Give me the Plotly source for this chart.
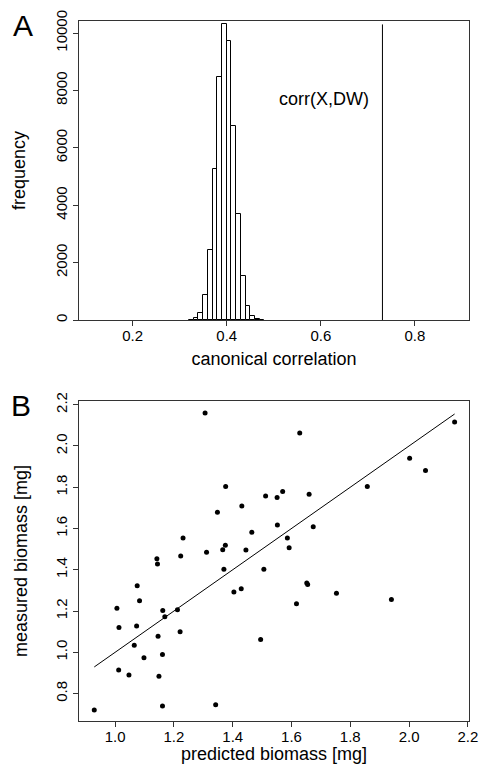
import plotly.graph_objects as go

# panel A: permutation histogram of canonical correlation (bin width 0.01)
bin_left = [0.32, 0.33, 0.34, 0.35, 0.36, 0.37, 0.38, 0.39,
            0.40, 0.41, 0.42, 0.43, 0.44, 0.45, 0.46, 0.47]
counts = [10, 58, 232, 870, 2436, 5278, 8480, 10301,
          9733, 6752, 3689, 1531, 499, 139, 35, 5]
observed_corr = 0.731
freq_ticks = [0, 2000, 4000, 6000, 8000, 10000]

# panel B: predicted vs measured biomass
predicted = [1.306, 1.376, 1.512, 1.551, 1.431, 1.348, 1.552, 1.465, 1.231, 1.375,
             1.366, 1.445, 1.142, 1.311, 1.223, 1.144, 1.370, 1.506, 1.075, 1.429,
             1.404, 1.083, 1.006, 1.162, 1.212, 1.169, 1.013, 1.073, 1.221, 1.146,
             1.495, 1.065, 1.098, 1.161, 1.012, 1.047, 1.149, 0.929, 1.161, 1.342,
             1.628, 1.570, 1.660, 1.858, 2.002, 2.056, 2.155, 1.674, 1.586, 1.592,
             1.652, 1.655, 1.617, 1.753, 1.940]
measured = [2.160, 1.803, 1.758, 1.750, 1.709, 1.679, 1.617, 1.582, 1.554, 1.519,
            1.497, 1.496, 1.454, 1.485, 1.467, 1.428, 1.402, 1.402, 1.322, 1.308,
            1.292, 1.250, 1.213, 1.203, 1.206, 1.172, 1.120, 1.127, 1.099, 1.078,
            1.062, 1.034, 0.973, 0.989, 0.914, 0.890, 0.884, 0.720, 0.740, 0.746,
            2.063, 1.779, 1.766, 1.803, 1.941, 1.881, 2.116, 1.609, 1.554, 1.507,
            1.336, 1.328, 1.235, 1.286, 1.256]
pred_ticks = [1.0, 1.2, 1.4, 1.6, 1.8, 2.0, 2.2]
meas_ticks = [0.8, 1.0, 1.2, 1.4, 1.6, 1.8, 2.0, 2.2]

W, H = 479, 764
font = "Liberation Sans, Arial, sans-serif"
line_col = "#333333"

fig = go.Figure()

fig.add_trace(go.Bar(
    x=[b + 0.005 for b in bin_left], y=counts, width=0.01,
    marker=dict(color="white", line=dict(color="black", width=1)),
    xaxis="x", yaxis="y", showlegend=False))

fig.add_trace(go.Scatter(
    x=[observed_corr, observed_corr], y=[0, max(counts)], mode="lines",
    line=dict(color="black", width=1), xaxis="x", yaxis="y", showlegend=False))

fig.add_trace(go.Scatter(
    x=predicted, y=measured, mode="markers",
    marker=dict(color="black", size=5), xaxis="x2", yaxis="y2", showlegend=False))

# identity line over the range of predictions
lo, hi = min(predicted), max(predicted)
fig.add_trace(go.Scatter(
    x=[lo, hi], y=[lo, hi], mode="lines",
    line=dict(color="black", width=1), xaxis="x2", yaxis="y2", showlegend=False))

axis_common = dict(showline=True, linecolor=line_col, linewidth=1, mirror=True,
                   ticks="outside", ticklen=5, tickcolor=line_col, showgrid=False,
                   zeroline=False, automargin=False,
                   tickfont=dict(size=15, color="black", family=font),
                   title_font=dict(size=18, color="black", family=font))

xdom = [79 / W, 469 / W]

fig.update_layout(
    width=W, height=H,
    margin=dict(l=0, r=0, t=0, b=0),
    paper_bgcolor="white", plot_bgcolor="white",
    font=dict(family=font, color="black"),
    bargap=0,
    xaxis=dict(axis_common, domain=xdom, range=[0.086, 0.915], ticklabelstandoff=-3,
               tickvals=[0.2, 0.4, 0.6, 0.8], ticktext=["0.2", "0.4", "0.6", "0.8"],
               title=dict(text="canonical correlation", standoff=9), anchor="y"),
    yaxis=dict(axis_common, domain=[1 - 320 / H, 1 - 21 / H], range=[0, 10420],
               tickvals=freq_ticks, ticktext=[str(t) for t in freq_ticks], tickangle=-90,
               title=dict(text="frequency", standoff=22), anchor="x"),
    xaxis2=dict(axis_common, domain=xdom, range=[0.877, 2.204], ticklabelstandoff=-3,
                tickvals=pred_ticks, ticktext=["%.1f" % t for t in pred_ticks],
                title=dict(text="predicted biomass [mg]", standoff=9), anchor="y2"),
    yaxis2=dict(axis_common, domain=[1 - 721 / H, 1 - 401 / H], range=[0.667, 2.218],
                tickvals=meas_ticks, ticktext=["%.1f" % t for t in meas_ticks],
                tickangle=-90,
                title=dict(text="measured biomass [mg]", standoff=20), anchor="x2"),
)

fig.add_annotation(text="corr(X,DW)", x=0.707, y=7715, xref="x", yref="y",
                   xanchor="right", yanchor="middle", showarrow=False,
                   font=dict(size=18, family=font, color="black"))
fig.add_annotation(text="A", x=23 / W, y=1 - 25.5 / H, xref="paper", yref="paper",
                   xanchor="center", yanchor="middle", showarrow=False,
                   font=dict(size=30, family=font, color="black"))
fig.add_annotation(text="B", x=21 / W, y=1 - 405.5 / H, xref="paper", yref="paper",
                   xanchor="center", yanchor="middle", showarrow=False,
                   font=dict(size=30, family=font, color="black"))

# page body has a default 8px margin; drop it so the figure sits at the window's corner
fig.write_html("out.html", config={"displayModeBar": False},
               post_script="document.body.style.margin='0';")
